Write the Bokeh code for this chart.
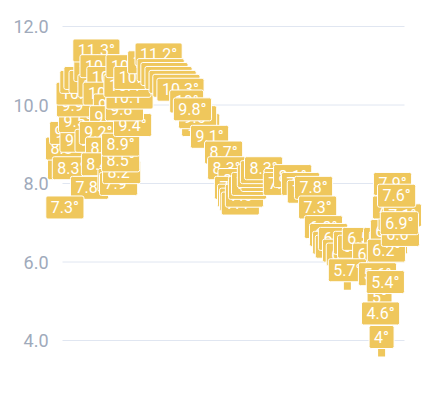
from bokeh.plotting import figure
from bokeh.models import Range1d
from bokeh.core.properties import value
from bokeh.embed import file_html
from bokeh.resources import INLINE

# ---- data (x in day units, temperature in degrees), listed in drawing order ----
day = [
    1.2, 0.6, 2.6, 1.8, 2.9, 4.4, 3.8, 5.0, 6.1, 7.3, 8.8, 10.2, 11.4, 9.9,
    12.0, 14.0, 12.9, 14.6, 13.5, 7.3, 10.5, 12.3, 11.1, 7.9, 14.0, 16.4, 0.7,
    17.3, 17.0, 17.0, 20.5, 18.1, 19.6, 19.0, 19.6, 21.9, 24.0,
    28.1, 28.7, 29.8, 31.0, 32.2, 33.3, 34.5, 36.3, 40.4, 39.5, 38.0, 43.0, 47.1,
    48.0, 49.1, 50.0, 50.9, 51.5, 52.0, 53.2, 54.1, 55.0, 55.8, 56.7, 57.6, 58.8,
    62.6, 64.3, 67.3, 69.6, 71.3, 73.4, 74.6, 76.3,
    77.8, 78.7, 79.5, 80.4, 81.6, 82.7, 84.8, 86.0, 87.4, 93.6, 90.4,
    95.3, 95.6, 95.9, 96.2, 83.3, 92.1, 92.7, 93.0, 93.3, 94.4, 94.7,
    98.8, 99.4, 96.5, 97.7, 98.5,
]
temp = [
    8.3, 8.8, 8.3, 9.2, 9.0, 9.5, 9.9, 10.2, 10.5, 10.6, 10.5, 10.8, 10.4, 11.3,
    10.9, 10.6, 10.2, 9.9, 9.6, 9.0, 9.2, 8.8, 8.4, 7.8, 8.0, 7.9, 7.3,
    8.2, 8.5, 8.9, 9.4, 9.8, 10.1, 10.4, 10.9, 10.6, 11.0,
    11.2, 10.8, 10.7, 10.6, 10.5, 10.4, 10.3, 10.0, 9.4, 9.6, 9.8, 9.1, 8.7,
    8.3, 8.0, 7.8, 7.6, 7.5, 7.4, 7.6, 7.8, 7.9, 8.0, 8.1, 8.2, 8.3,
    8.0, 7.9, 8.1, 7.9, 7.7, 7.8, 7.3, 6.8,
    6.6, 6.4, 6.3, 6.5, 6.2, 6.1, 6.4, 6.3, 6.5, 6.5, 6.1,
    6.4, 6.7, 7.0, 7.3, 5.7, 5.6, 5.0, 4.6, 4.0, 5.4, 6.2,
    6.6, 7.1, 7.9, 7.6, 6.9,
]
pin_day = [83.3, 93.3]
pin_temp = [5.7, 4.0]

y_ticks = [4, 6, 8, 10, 12]
y_tick_labels = ["4.0", "6.0", "8.0", "10.0", "12.0"]

# ---- geometry / style ----
W, H = 431, 395
GRID_L, GRID_R = 62, 404          # px
Y12_PX, Y4_PX = 26, 340           # px
px_per_day = (GRID_R - GRID_L) / 100.0
px_per_deg = (Y4_PX - Y12_PX) / 8.0
GOLD = "#efc75c"

x_range = Range1d(-GRID_L / px_per_day, (W - GRID_L) / px_per_day)
y_range = Range1d(4 - (H - Y4_PX) / px_per_deg, 12 + Y12_PX / px_per_deg)

p = figure(width=W, height=H, x_range=x_range, y_range=y_range,
           output_backend="svg", toolbar_location=None,
           x_axis_location=None, y_axis_location=None, min_border=0)
p.min_border_left = p.min_border_right = p.min_border_top = p.min_border_bottom = 0
p.outline_line_color = None
p.grid.visible = False
p.background_fill_color = "white"
p.border_fill_color = "white"

# grid lines
p.segment(x0=[0] * len(y_ticks), x1=[100] * len(y_ticks), y0=y_ticks, y1=y_ticks,
          line_color="#e0e6f1", line_width=1)

# y tick labels
p.text(x=[-14 / px_per_day] * len(y_ticks), y=y_ticks, text=y_tick_labels,
       text_align="right", text_baseline="middle",
       text_font=value("Roboto"), text_font_size="18px", text_color="#a0aabb")

# small pins under some labels
p.quad(left=[d - 3.5 / px_per_day for d in pin_day],
       right=[d + 3.5 / px_per_day for d in pin_day],
       top=[t - 8 / px_per_deg for t in pin_temp],
       bottom=[t - 16 / px_per_deg for t in pin_temp],
       fill_color=GOLD, line_color=None)

labels = [("%g" % t) + "°" for t in temp]
p.text(x=day, y=temp, text=labels, text_align="center", text_baseline="middle",
       y_offset=-3.5, text_font=value("Roboto"), text_font_size="16px",
       text_color="white", background_fill_color=GOLD,
       border_line_color="white", border_line_width=1,
       padding=dict(left=5, right=5, top=2, bottom=2), border_radius=2)

open("out.html", "w").write(file_html(p, INLINE))
